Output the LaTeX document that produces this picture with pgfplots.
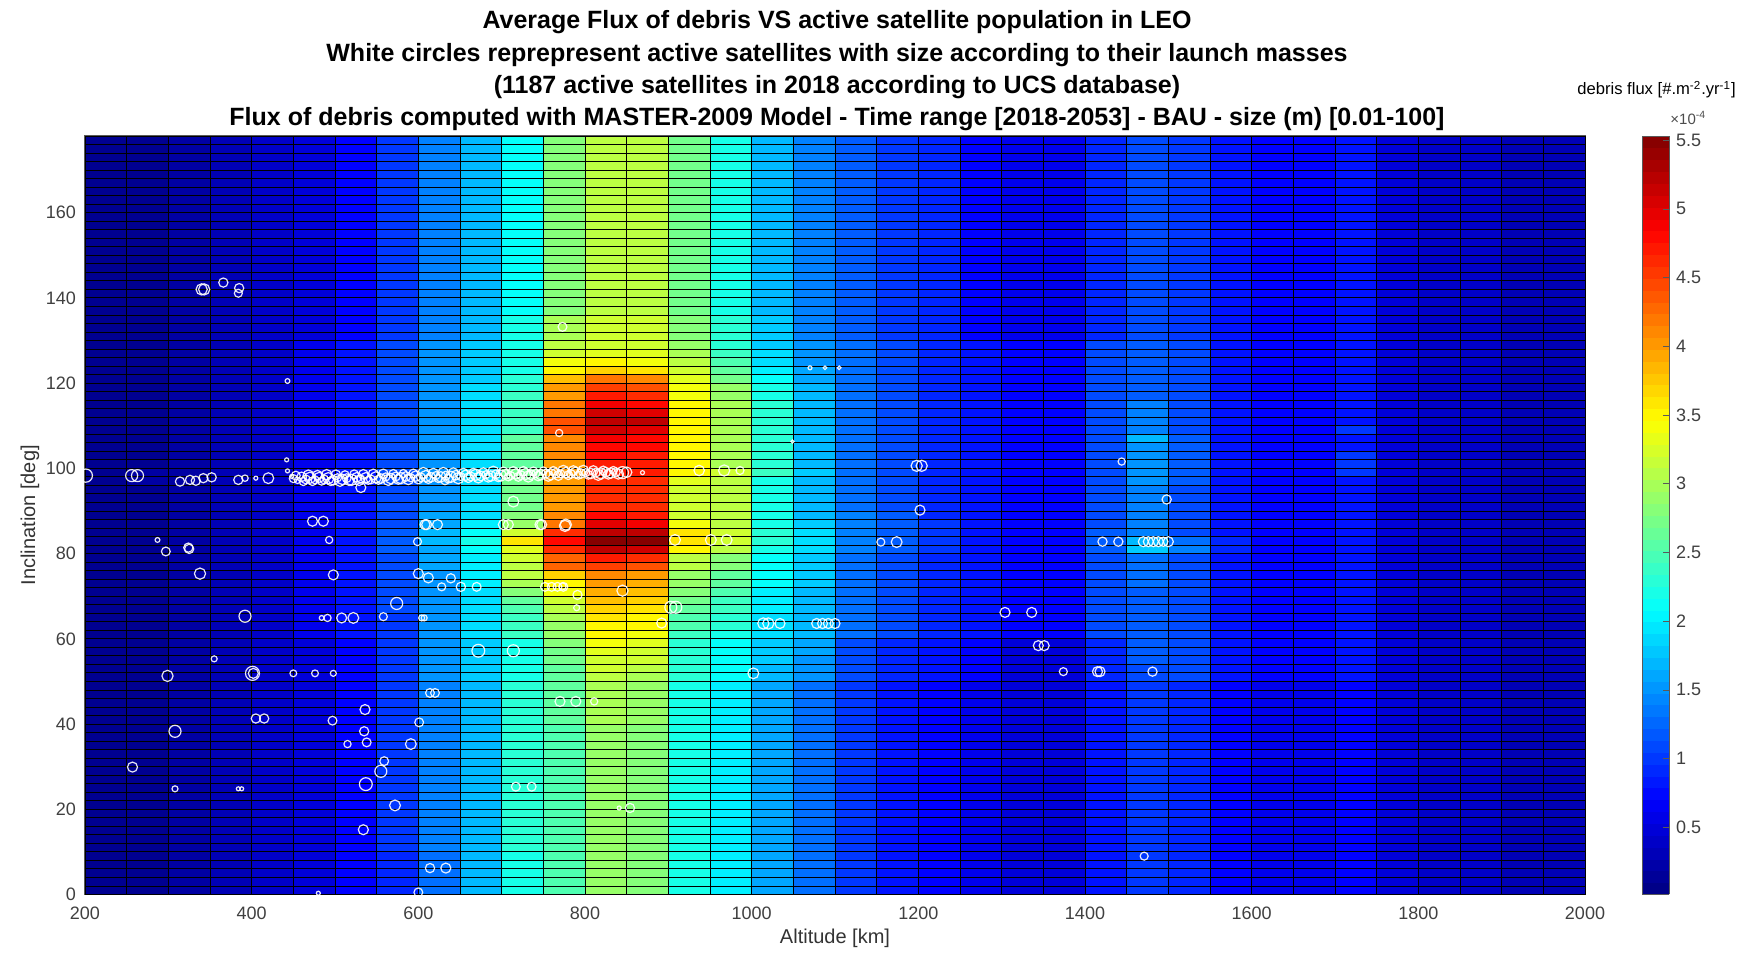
\documentclass[border=0pt]{standalone}
\usepackage{pgfplots}
\pgfplotsset{compat=1.18}
\usepackage{pgfplotstable}
\usepackage{fontspec}
\setmainfont{Liberation Sans}

\pgfdeclareplotmark{cell}{%
  \pgfpathrectangle{\pgfqpoint{-10.4167pt}{-2.1306pt}}{\pgfqpoint{20.8333pt}{4.2612pt}}%
  \pgfusepathqfillstroke}

% debris flux, units of 1e-5 #/m^2/yr ; rows = inclination bin centres, columns = altitude bin centres
\pgfplotstableread{
inc a225 a275 a325 a375 a425 a475 a525 a575 a625 a675 a725 a775 a825 a875 a925 a975 a1025 a1075 a1125 a1175 a1225 a1275 a1325 a1375 a1425 a1475 a1525 a1575 a1625 a1675 a1725 a1775 a1825 a1875 a1925 a1975
177 1 1 2 3 4 5 7 10 14 17 21 28 31 31 27 22 17 14 12 10 9 7 6 6 9 11 10 8 7 7 8 5 4 4 3 3
175 1 1 2 3 4 5 7 10 14 17 21 28 31 31 27 22 17 14 12 10 9 7 6 6 9 11 10 8 7 7 8 5 4 4 3 3
173 1 1 2 3 4 5 7 10 14 17 21 28 31 31 27 22 17 14 12 10 9 7 6 6 9 11 10 8 7 7 8 5 4 4 3 3
171 1 1 2 3 4 5 7 10 14 17 21 28 31 31 27 22 17 14 12 10 9 7 6 6 9 11 10 8 7 7 8 5 4 4 3 3
169 1 1 2 3 4 5 7 10 14 17 21 28 31 31 27 22 17 14 12 10 9 7 6 6 9 11 10 8 7 7 8 5 4 4 3 3
167 1 1 2 3 4 5 7 10 14 17 21 28 31 31 27 22 17 14 12 10 9 7 6 6 9 11 10 8 7 7 8 5 4 4 3 3
165 1 1 2 3 4 5 7 10 14 17 21 28 31 31 27 22 17 14 12 10 9 7 6 6 9 11 10 8 7 7 8 5 4 4 3 3
163 1 1 2 3 4 5 7 10 14 17 21 28 31 31 27 22 17 14 12 10 9 7 6 6 9 11 10 8 7 7 8 5 4 4 3 3
161 1 1 2 3 4 5 7 10 14 17 21 28 31 31 27 22 17 14 12 10 9 7 6 6 9 11 10 8 7 7 8 5 4 4 3 3
159 1 1 2 3 4 5 7 10 14 17 21 28 31 31 27 22 17 14 12 10 9 7 6 6 9 11 10 8 7 7 8 5 4 4 3 3
157 1 1 2 3 4 5 7 10 14 17 21 28 31 31 27 22 17 14 12 10 9 7 6 6 9 11 10 8 7 7 8 5 4 4 3 3
155 1 1 2 3 4 5 7 10 14 17 21 28 31 31 27 22 17 14 12 10 9 7 6 6 9 11 10 8 7 7 8 5 4 4 3 3
153 1 1 2 3 4 5 7 10 14 17 21 28 31 31 27 22 17 14 12 10 9 7 6 6 9 11 10 8 7 7 8 5 4 4 3 3
151 1 1 2 3 4 5 7 10 14 17 21 28 31 31 27 22 17 14 12 10 9 7 6 6 9 11 10 8 7 7 8 5 4 4 3 3
149 1 1 2 3 4 5 7 10 14 17 21 28 31 31 27 22 17 14 12 10 9 7 6 6 9 11 10 8 7 7 8 5 4 4 3 3
147 1 1 2 3 4 5 7 10 14 17 21 28 31 31 27 22 17 14 12 10 9 7 6 6 9 11 10 8 7 7 8 5 4 4 3 3
145 1 1 2 3 4 5 7 10 14 17 21 28 31 31 27 22 17 14 12 10 9 7 6 6 9 11 10 8 7 7 8 5 4 4 3 3
143 1 1 2 3 4 5 7 10 14 17 21 28 31 31 27 22 17 14 12 10 9 7 6 6 9 11 10 8 7 7 8 5 4 4 3 3
141 1 1 2 3 4 5 7 10 14 17 21 28 31 31 27 22 17 14 12 10 9 7 6 6 9 11 10 8 7 7 8 5 4 4 3 3
139 1 1 2 3 4 5 7 10 14 17 21 28 31 31 27 22 17 14 12 10 9 7 6 6 9 11 10 8 7 7 8 5 4 4 3 3
137 1 1 2 3 4 5 7 10 14 17 21 28 31 31 27 22 17 14 12 10 9 7 6 6 9 11 10 8 7 7 8 5 4 4 3 3
135 1 1 2 3 4 5 7 10 14 17 22 30 32 32 28 23 18 14 12 10 9 7 6 6 9 11 10 8 7 7 8 5 4 4 3 3
133 1 1 2 3 4 5 7 10 14 17 22 30 32 32 28 23 18 14 12 10 9 7 6 6 9 11 10 8 7 7 8 5 4 4 3 3
131 1 1 2 3 4 5 7 10 14 17 22 30 32 32 28 23 18 14 12 10 9 7 6 6 9 11 10 8 7 7 8 5 4 4 3 3
129 1 1 2 3 4 6 8 11 15 18 22 31 32 32 29 23 18 15 13 11 9 8 7 7 11 12 11 8 7 7 8 5 4 4 3 3
127 1 1 2 3 4 6 8 11 15 18 22 32 33 33 30 24 19 15 13 11 9 8 7 7 11 12 11 8 7 7 8 5 4 4 3 3
125 1 1 2 3 4 6 8 11 15 18 22 34 35 34 31 25 19 15 13 11 9 8 7 7 11 12 11 8 7 7 8 5 4 4 3 3
123 1 1 2 3 4 6 8 11 15 18 22 35 37 36 32 26 20 16 13 11 9 8 7 7 11 12 11 8 7 7 8 5 4 4 3 3
121 1 1 2 3 4 6 8 11 15 18 23 38 42 41 33 27 21 16 13 11 9 8 7 7 11 12 11 8 7 7 8 5 4 4 3 3
119 1 1 2 3 4 6 8 11 15 19 23 40 45 44 34 29 22 17 13 11 9 8 7 7 11 12 11 8 7 7 8 5 4 4 3 3
117 1 1 2 3 4 6 8 11 15 19 24 40 47 46 34 29 22 17 13 11 9 8 7 7 11 12 11 8 7 7 8 5 4 4 3 3
115 1 1 2 3 4 6 8 11 15 19 24 42 49 48 35 30 23 17 13 11 9 8 7 7 11 14 11 8 7 7 8 5 4 4 3 3
113 1 1 2 3 4 6 8 11 15 19 24 42 51 50 35 30 23 17 13 11 9 8 7 7 11 14 11 8 7 7 8 5 4 4 3 3
111 1 1 2 3 4 6 8 11 15 19 24 44 52 52 35 30 23 17 13 11 9 8 7 7 11 14 11 8 7 7 8 5 4 4 3 3
109 1 1 2 3 4 6 8 11 15 19 24 44 51 50 35 30 23 17 13 11 9 8 7 7 11 14 11 8 7 7 10 5 4 4 3 3
107 1 1 2 3 4 6 8 11 15 19 26 41 49 48 35 30 23 17 13 11 9 8 7 7 11 17 12 8 7 7 8 5 4 4 3 3
105 1 1 2 3 4 6 8 11 15 19 26 41 48 48 35 30 23 17 13 11 9 8 7 7 11 15 12 8 7 7 8 5 4 4 3 3
103 1 1 2 3 4 6 8 11 15 19 26 41 48 47 35 30 23 17 13 11 9 8 7 7 11 15 12 8 7 7 10 5 4 4 3 3
101 1 1 2 3 4 6 8 11 15 19 26 40 47 47 35 30 23 17 13 11 9 8 7 7 11 15 12 8 7 7 10 5 4 4 3 3
99 1 2 2 3 4 6 8 11 15 19 27 40 47 47 35 32 24 18 13 11 9 8 7 7 11 15 12 8 7 7 10 5 4 4 3 3
97 1 2 2 3 4 6 8 11 15 19 27 40 46 46 33 31 22 17 13 11 9 8 7 7 11 15 12 8 7 7 8 5 4 4 3 3
95 1 1 2 3 4 6 8 11 15 19 27 40 46 46 32 31 22 17 13 11 9 8 7 7 11 14 11 8 7 7 8 5 4 4 3 3
93 1 1 2 3 4 6 8 11 15 19 27 40 46 46 32 31 22 17 13 11 9 8 7 7 11 14 11 8 7 7 8 5 4 4 3 3
91 1 1 2 3 4 6 8 11 15 19 27 40 46 46 32 31 22 17 13 11 9 8 7 7 11 14 11 8 7 7 8 5 4 4 3 3
89 1 1 2 3 4 6 8 11 16 19 28 41 48 47 32 31 22 17 14 12 9 8 7 7 11 14 11 8 7 7 8 5 4 4 3 3
87 1 1 2 3 4 6 8 11 16 20 29 42 50 49 34 31 22 18 14 12 10 8 7 7 11 14 11 8 7 7 8 5 4 4 3 3
85 1 1 2 3 4 6 8 12 17 21 32 46 52 52 36 32 23 19 14 12 10 8 7 7 12 14 11 8 7 7 8 5 4 4 3 3
83 1 1 2 3 4 6 8 12 17 22 36 48 55 55 36 32 23 19 14 12 10 8 7 7 12 17 13 9 7 7 8 5 4 4 3 3
81 1 1 2 3 4 6 8 12 16 21 33 46 52 51 35 31 22 19 14 12 10 8 7 7 12 18 14 9 7 7 8 5 4 4 3 3
79 1 1 2 3 4 6 8 11 16 20 32 43 47 46 31 28 21 18 13 11 9 8 7 7 11 13 11 8 7 7 8 5 4 4 3 3
77 1 1 2 3 4 6 8 11 16 20 31 43 45 44 31 28 21 18 13 11 9 8 7 7 11 13 11 8 7 7 8 5 4 4 3 3
75 1 1 2 3 4 6 8 11 15 20 31 37 41 40 29 26 21 18 13 11 9 8 7 7 11 13 11 8 7 7 8 5 4 4 3 3
73 1 1 2 3 4 6 8 11 15 20 30 35 40 39 29 26 21 18 13 11 9 8 7 7 11 13 11 8 7 7 8 5 4 4 3 3
71 1 1 2 3 4 6 8 11 15 19 28 34 39 38 28 25 20 17 13 11 9 8 7 7 11 12 11 8 7 7 8 5 4 4 3 3
69 1 1 2 3 4 6 8 11 15 19 26 32 38 37 27 24 20 17 13 11 9 8 7 7 11 12 11 8 7 7 8 5 4 4 3 3
67 1 1 2 3 4 6 8 11 15 19 25 31 37 36 26 24 20 17 13 11 9 8 7 7 11 12 11 8 7 7 8 5 4 4 3 3
65 1 1 2 3 4 6 8 10 15 19 24 30 36 35 25 23 19 17 13 11 9 8 7 7 11 12 11 8 7 7 8 5 4 4 3 3
63 1 1 2 3 4 6 8 10 15 19 24 29 35 35 25 23 19 17 13 11 9 8 7 7 11 12 11 8 7 7 8 5 4 4 3 3
61 1 1 2 3 4 6 8 10 15 19 24 29 35 34 24 22 19 17 13 11 9 8 7 7 11 12 11 8 7 7 8 5 4 4 3 3
59 1 1 2 3 4 5 7 10 15 18 22 28 34 33 23 21 18 16 11 9 8 7 5 5 9 12 11 8 7 7 8 5 4 4 3 3
57 1 1 2 3 4 5 7 10 15 18 22 27 33 32 23 21 18 16 11 9 8 7 5 5 9 12 11 8 7 7 8 5 4 4 3 3
55 1 1 2 3 4 5 7 10 15 18 22 27 32 32 23 21 18 15 11 9 8 7 5 5 9 12 11 8 7 7 8 5 4 4 3 3
53 1 1 2 3 4 5 7 10 15 18 22 26 32 31 23 21 17 15 11 9 8 7 5 5 9 11 11 8 7 7 8 5 4 4 3 3
51 1 1 2 3 4 5 7 10 15 18 22 26 31 30 23 21 17 15 11 9 8 7 5 5 9 11 11 8 7 7 8 5 4 4 3 3
49 1 1 2 3 4 5 7 10 14 17 23 26 30 29 22 20 16 13 10 8 7 6 5 5 8 10 9 7 6 6 7 5 4 4 3 3
47 1 1 2 3 4 5 7 10 14 17 23 26 30 29 22 20 16 13 10 8 7 6 5 5 8 10 9 7 6 6 7 5 4 4 3 3
45 1 1 2 3 4 5 7 10 14 17 23 26 30 29 22 20 16 13 10 8 7 6 5 5 8 10 9 7 6 6 7 5 4 4 3 3
43 1 1 2 3 4 5 7 10 14 17 23 26 30 29 22 20 16 13 10 8 7 6 5 5 8 10 9 7 6 6 7 5 4 4 3 3
41 1 1 2 3 4 5 7 10 14 17 23 26 30 29 22 20 16 13 10 8 7 6 5 5 8 10 9 7 6 6 7 5 4 4 3 3
39 1 1 2 3 4 5 7 10 14 17 23 25 29 28 22 20 16 13 10 8 7 6 5 5 8 10 9 7 6 6 7 5 4 4 3 3
37 1 1 2 3 4 5 7 10 14 17 23 25 29 28 22 20 16 13 10 8 7 6 5 5 8 10 9 7 6 6 7 5 4 4 3 3
35 1 1 2 3 4 5 7 10 14 17 23 25 29 28 22 20 16 13 10 8 7 6 5 5 8 10 9 7 6 6 7 5 4 4 3 3
33 1 1 2 3 4 5 7 10 14 17 23 25 29 28 22 20 16 13 10 8 7 6 5 5 8 10 9 7 6 6 7 5 4 4 3 3
31 1 1 2 3 4 5 7 10 14 17 23 25 29 28 22 20 16 13 10 8 7 6 5 5 8 10 9 7 6 6 7 5 4 4 3 3
29 1 1 2 3 4 5 7 10 14 17 23 25 29 28 22 20 16 13 10 8 7 6 5 5 8 10 9 7 6 6 7 5 4 4 3 3
27 1 1 2 3 4 5 7 10 14 17 23 25 29 28 22 20 16 13 10 8 7 6 5 5 8 10 9 7 6 6 7 5 4 4 3 3
25 1 1 2 3 4 5 7 10 14 17 23 25 29 28 22 20 16 13 10 8 7 6 5 5 8 10 9 7 6 6 7 5 4 4 3 3
23 1 1 2 3 4 5 7 10 14 17 23 25 29 28 22 20 16 13 10 8 7 6 5 5 8 10 9 7 6 6 7 5 4 4 3 3
21 1 1 2 3 4 5 7 10 14 17 23 25 29 28 22 20 16 13 10 8 7 6 5 5 8 10 9 7 6 6 7 5 4 4 3 3
19 1 1 2 3 4 5 7 10 14 17 23 25 29 28 22 20 16 13 10 8 7 6 5 5 8 10 9 7 6 6 7 5 4 4 3 3
17 1 1 2 3 4 5 7 10 14 17 23 25 29 28 22 20 16 13 10 8 7 6 5 5 8 10 9 7 6 6 7 5 4 4 3 3
15 1 1 2 3 4 5 7 10 14 17 23 25 29 28 22 20 16 13 10 8 7 6 5 5 8 10 9 7 6 6 7 5 4 4 3 3
13 1 1 2 3 4 5 7 10 14 17 23 25 29 28 22 20 16 13 10 8 7 6 5 5 8 10 9 7 6 6 7 5 4 4 3 3
11 1 1 2 3 4 5 7 10 14 17 23 25 29 28 22 20 16 13 10 8 7 6 5 5 8 10 9 7 6 6 7 5 4 4 3 3
9 1 1 2 3 4 5 7 9 13 17 22 25 29 28 22 20 16 13 10 8 7 6 5 5 8 10 9 7 6 6 7 5 4 4 3 3
7 1 1 2 3 4 5 7 9 13 17 22 25 29 28 22 20 16 13 10 8 7 6 5 5 8 10 9 7 6 6 7 5 4 4 3 3
5 1 1 2 3 4 5 7 9 13 17 22 25 29 28 22 20 16 13 10 8 7 6 5 5 8 10 9 7 6 6 7 5 4 4 3 3
3 1 1 2 3 4 5 7 9 13 17 22 25 29 28 22 20 16 13 10 8 7 6 5 5 8 10 9 7 6 6 7 5 4 4 3 3
1 1 1 2 3 4 5 7 9 13 17 22 25 29 28 22 20 16 13 10 8 7 6 5 5 8 10 9 7 6 6 7 5 4 4 3 3
}\flux

% active satellites: altitude [km], inclination [deg], marker radius [pt]
\pgfplotstableread{
x y s
340 142.0 2.8
343 142.0 2.8
366 143.6 2.3
385 142.3 2.3
384 141.1 2.0
443 120.5 1.2
773 133.2 2.2
769 108.3 1.8
1049 106.3 0.8
1070 123.6 1.0
1088 123.6 0.9
1105 123.6 0.9
442 102.0 1.0
1444 101.6 1.8
1498 92.7 2.3
1421 82.8 2.3
1440 82.8 2.3
1470 82.8 2.5
1476 82.8 2.5
1482 82.8 2.5
1488 82.8 2.5
1494 82.8 2.3
1500 82.8 2.5
1418 52.3 2.5
1415 52.3 2.5
1374 52.3 2.0
1481 52.3 2.3
1304 66.2 2.5
1336 66.2 2.5
1344 58.4 2.5
1351 58.4 2.5
1471 9.0 2.0
1198 100.6 2.8
1204 100.6 2.8
1202 90.2 2.5
1155 82.7 2.0
1174 82.7 2.7
1002 51.9 2.7
1014 63.6 2.8
1020 63.6 2.8
1034 63.6 2.5
1078 63.6 2.5
1085 63.6 2.5
1092 63.6 2.5
1100 63.6 2.5
892 63.7 2.5
903 67.4 3.0
909 67.4 3.0
845 71.3 2.8
773 72.3 1.8
791 70.3 2.3
790 67.3 1.5
908 83.2 2.7
951 83.2 2.7
970 83.2 2.7
776 86.5 2.8
869 99.0 1.0
937 99.5 2.6
967 99.5 2.8
986 99.5 2.0
841 20.3 1.0
854 20.3 2.3
770 45.3 2.5
789 45.3 2.5
811 45.3 1.8
752 72.2 2.2
760 72.2 2.2
767 72.2 2.2
774 72.2 2.2
714 92.2 2.7
702 86.8 2.5
708 86.8 2.5
746 86.8 2.5
748 86.8 2.5
777 86.8 2.8
632 97.1 2.0
531 95.5 2.5
201 98.3 3.3
256 98.3 3.0
263 98.3 3.0
314 96.9 2.3
326 97.3 2.3
333 97.1 2.3
342 97.7 2.3
352 97.9 2.3
384 97.3 2.3
392 97.7 1.6
405 97.7 1.0
420 97.7 2.7
443 99.4 1.0
448 98.1 1.0
287 83.2 1.2
297 80.5 2.2
324 81.4 2.3
325 81.1 2.3
473 87.6 2.5
486 87.6 2.5
493 83.2 1.8
599 82.8 2.0
608 86.8 2.5
610 86.8 2.5
623 86.8 2.5
338 75.3 2.8
498 75.0 2.5
600 75.3 2.5
612 74.3 2.5
639 74.2 2.3
628 72.2 2.0
651 72.2 2.3
670 72.2 2.2
574 68.3 3.0
392 65.3 3.0
484 64.9 1.2
491 64.9 1.8
508 64.9 2.5
522 64.9 2.7
558 65.2 2.0
604 64.9 1.5
607 64.9 1.5
672 57.2 3.2
714 57.2 3.0
355 55.3 1.5
299 51.3 2.8
401 51.9 3.5
402 51.9 2.5
450 51.9 1.7
476 51.9 1.7
498 51.9 1.5
614 47.3 2.2
620 47.3 2.2
536 43.4 2.5
405 41.3 2.3
415 41.3 2.3
497 40.8 2.2
601 40.4 2.2
308 38.3 3.0
535 38.3 2.3
515 35.3 1.8
538 35.7 2.2
591 35.3 2.7
257 29.9 2.5
559 31.3 2.2
555 28.9 3.0
537 25.9 3.2
308 24.8 1.5
384 24.8 1.0
388 24.8 1.0
717 25.3 2.2
736 25.3 2.2
572 20.9 2.7
534 15.2 2.5
614 6.2 2.3
633 6.2 2.5
480 0.3 1.0
600 0.5 2.2
450 97.6 2.0
455 97.2 1.6
460 98.0 2.4
465 97.4 2.2
470 97.8 2.8
476 97.3 2.0
481 97.9 2.5
487 97.4 2.2
492 97.7 2.8
498 97.2 2.4
503 97.8 2.0
509 97.4 2.6
514 97.7 2.2
520 97.3 2.8
526 97.9 2.4
531 97.5 2.0
537 97.8 2.6
543 97.4 2.2
549 97.9 2.8
555 97.6 2.4
561 98.0 2.0
567 97.6 2.6
573 98.1 2.2
579 97.7 2.8
585 98.1 2.4
591 97.8 2.0
597 98.2 2.6
603 97.9 2.2
609 98.2 2.8
615 97.9 2.4
621 98.3 2.0
627 98.0 2.6
633 98.3 2.2
639 98.0 2.8
645 98.4 2.4
651 98.1 2.0
657 98.4 2.6
663 98.1 2.2
669 98.5 2.8
675 98.2 2.4
681 98.5 2.0
687 98.2 2.6
693 98.6 2.2
699 98.3 2.8
705 98.6 2.4
711 98.3 2.0
717 98.7 2.6
723 98.4 2.2
729 98.7 2.8
735 98.5 2.4
741 98.8 2.0
747 98.5 2.6
753 98.8 2.2
759 98.6 2.8
765 98.9 2.4
771 98.7 2.0
777 99.0 2.6
783 98.7 2.2
789 99.0 2.8
795 98.8 2.4
801 99.0 2.0
807 98.8 2.6
813 99.0 2.2
819 98.8 2.8
825 99.1 2.4
831 98.9 2.6
837 99.1 2.2
845 99.0 3.0
850 99.1 2.6
453 98.3 2.2
462 96.9 2.0
468 98.4 2.6
473 97.0 2.2
479 98.4 2.4
484 97.0 2.0
490 98.5 2.6
495 97.0 2.2
501 98.5 2.4
506 97.1 2.8
512 98.5 2.0
517 97.1 2.4
523 98.6 2.2
529 97.2 2.6
534 98.6 2.4
540 97.2 2.0
546 98.6 2.6
552 97.3 2.2
558 98.7 2.4
564 97.3 2.8
570 98.7 2.2
576 97.4 2.4
582 98.8 2.0
588 97.4 2.6
594 98.8 2.2
600 97.5 2.4
606 98.9 2.8
612 97.5 2.2
618 98.9 2.4
624 97.6 2.0
630 99.0 2.6
636 97.6 2.2
642 99.0 2.4
648 97.7 2.8
654 99.0 2.2
660 97.8 2.4
666 99.1 2.0
672 97.8 2.6
678 99.1 2.2
684 97.9 2.4
690 99.2 2.8
696 97.9 2.2
702 99.2 2.4
708 98.0 2.0
714 99.2 2.6
720 98.0 2.2
726 99.3 2.4
732 98.1 2.8
738 99.3 2.2
744 98.2 2.4
750 99.4 2.0
756 98.2 2.6
762 99.4 2.2
768 98.3 2.4
774 99.4 2.8
780 98.4 2.2
786 99.5 2.4
792 98.4 2.0
798 99.5 2.6
804 98.5 2.2
810 99.5 2.4
816 98.5 2.8
822 99.5 2.2
828 98.6 2.4
834 99.5 2.0
840 98.7 2.6
}\sats

\begin{document}
\begin{tikzpicture}
\path[use as bounding box] (-42.5pt,-32.75pt) rectangle (838.5pt,447.25pt);
\begin{axis}[
  at={(0pt,0pt)}, anchor=south west,
  scale only axis, width=750pt, height=379.25pt,
  xmin=200, xmax=2000, ymin=0, ymax=178,
  xtick={200,400,...,2000}, ytick={0,20,...,160},
  tick align=inside, major tick length=5pt,
  axis on top,
  axis line style={black!65, line width=0.5pt},
  tick style={black!65, line width=0.4pt},
  tick label style={font=\fontsize{9}{10}\selectfont, text=black!75},
  xticklabel style={yshift=-2.5pt},
  yticklabel style={xshift=-1pt},
  /pgf/number format/assume math mode=true,
  /pgf/number format/1000 sep={},
  xlabel={Altitude [km]}, ylabel={Inclination [deg]},
  label style={font=\fontsize{10}{12}\selectfont, text=black!80},
  xlabel style={at={(axis description cs:0.5,-0.0574)}, anchor=center},
  ylabel style={at={(axis description cs:-0.0367,0.5)}, anchor=center},
  colormap/jet,
  point meta min=0.1, point meta max=55.3,
  colorbar sampled,
  colorbar style={
    samples=65,
    at={(parent axis.north east)}, anchor=north west, xshift=20pt,
    width=13.5pt,
    ytick={5,10,...,55},
    yticklabels={0.5,1,1.5,2,2.5,3,3.5,4,4.5,5,5.5},
    yticklabel style={font=\fontsize{9}{10}\selectfont, text=black!75},
    tick align=inside, major tick length=3pt,
    ytick pos=right,
    axis line style={black!65},
    tick style={black!65},
  },
]
\pgfplotsinvokeforeach{225,275,...,1975}{
  \addplot[scatter, only marks, mark=cell, line width=0.45pt,
    scatter/use mapped color={draw=black, fill=mapped color},
    point meta=\thisrow{a#1}]
    table[x expr=#1, y=inc] {\flux};
}
\addplot[scatter, only marks, mark=o, line width=0.6pt,
  point meta=\thisrow{s},
  scatter/use mapped color={draw=white, draw opacity=0.9},
  visualization depends on={\thisrow{s}\as\ms},
  scatter/@pre marker code/.append style={/tikz/mark size=\ms pt}]
  table[x=x, y=y] {\sats};
\end{axis}
\begin{scope}[every node/.style={inner sep=0pt}]
\node[anchor=base, font=\bfseries\fontsize{12.5}{15}\selectfont] at (376pt,432.75pt) {Average Flux of debris VS active satellite population in LEO};
\node[anchor=base, font=\bfseries\fontsize{12.5}{15}\selectfont] at (376pt,416.25pt) {White circles reprepresent active satellites with size according to their launch masses};
\node[anchor=base, font=\bfseries\fontsize{12.5}{15}\selectfont] at (376pt,400.25pt) {(1187 active satellites in 2018 according to UCS database)};
\node[anchor=base, font=\bfseries\fontsize{12.5}{15}\selectfont] at (376pt,384.25pt) {Flux of debris computed with MASTER-2009 Model - Time range [2018-2053] - BAU - size (m) [0.01-100]};
\node[anchor=base west, font=\fontsize{8.3}{10}\selectfont] at (746pt,399.75pt) {debris flux [\#.m\textsuperscript{-2}.yr\textsuperscript{-1}]};
\node[anchor=base west, font=\fontsize{7.5}{9}\selectfont, text=black!70] at (792.5pt,384.75pt) {×10\textsuperscript{-4}};
\end{scope}
\end{tikzpicture}
\end{document}
